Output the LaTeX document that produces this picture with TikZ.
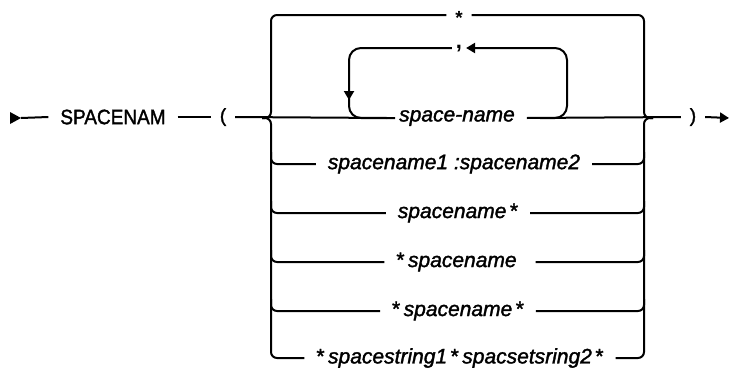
\documentclass[tikz,border=0pt]{standalone}
\usepackage{fontspec}
\setmainfont{Liberation Sans}[UprightFeatures={FakeBold=1.6},ItalicFeatures={FakeBold=1.6}]
\usetikzlibrary{arrows.meta}
\begin{document}
\begin{tikzpicture}[x=1pt,y=-1pt,line width=2pt,
  lbl/.style={inner xsep=11pt,inner ysep=2pt,font=\fontsize{21}{24}\selectfont\itshape},
  kw/.style={inner xsep=11pt,inner ysep=2pt,font=\fontsize{19}{22}\selectfont},
  tipr/.style={-{Triangle[length=9pt,width=10pt]}},
  br/.style={rounded corners=6pt}]
\useasboundingbox (0,0) rectangle (730,370);
% main line
\coordinate (s0) at (10,118);
\coordinate (s1) at (21,118);
\fill (10,112) -- (21,118) -- (10,124) -- cycle;
\node[kw,yscale=1.1,transform shape] (kwd) at (113,117) {SPACENAM};
\node[kw,inner xsep=8pt] (lp) at (223,117) {(};
\node[kw,inner xsep=8pt] (rp) at (693,117) {)};
\coordinate (e0) at (729,118);
\draw (s1) -- (kwd.west);
\draw (kwd.east) -- (lp.west);
\draw[tipr] (rp.east) -- (e0);
% rows
\node[kw,inner xsep=8pt] (n0) at (459,18) {\textbf{*}};
\node[kw,inner xsep=3pt,font=\fontsize{22}{24}\selectfont\bfseries] (cm) at (459,49) {,};
\node[lbl] (n2) at (457,118) {space-name};
\node[lbl] (n3) at (454,164) {spacename1 :spacename2};
\node[lbl] (n4) at (458,213) {spacename\,\textup{*}};
\node[lbl] (n5) at (460,262) {\textup{*}\,spacename\,\,};
\node[lbl] (n6) at (458,311) {\textup{*}\,spacename\,\textup{*}};
\node[lbl] (n7) at (460,358) {\textup{*}\,spacestring1\,\textup{*}\,spacsetsring2\,\textup{*}};
% main row through
\draw (lp.east) -- (n2.west);
\draw (n2.east) -- (rp.west);
% left bracket
\draw[br] (n0.west |- 0,15) -- (271,15) -- (271,118) -- (262,118);
\draw[br] (262,118) -- (271,118) -- (271,358) -- (n7.west);
\foreach \n/\y in {n3/164,n4/213,n5/262,n6/311}{
  \draw[br] (271,\y-12) -- (271,\y) -- (\n.west);
}
% right bracket
\draw[br] (n0.east |- 0,15) -- (644,15) -- (644,118) -- (653,118);
\draw[br] (653,118) -- (644,118) -- (644,358) -- (n7.east);
\foreach \n/\y in {n3/164,n4/213,n5/262,n6/311}{
  \draw[br] (644,\y-12) -- (644,\y) -- (\n.east);
}
% repeat loop
\coordinate (lr0) at (540,118);
\coordinate (ll0) at (395,118);
\draw[br,rounded corners=12pt,tipr] (lr0) -- (567,118) -- (567,48) -- (cm.east |- 0,48);
\draw[rounded corners=12pt] (cm.west |- 0,48) -- (349,48) -- (349,118) -- (ll0);
\draw[tipr] (349,75) -- (349,100);
\end{tikzpicture}
\end{document}
